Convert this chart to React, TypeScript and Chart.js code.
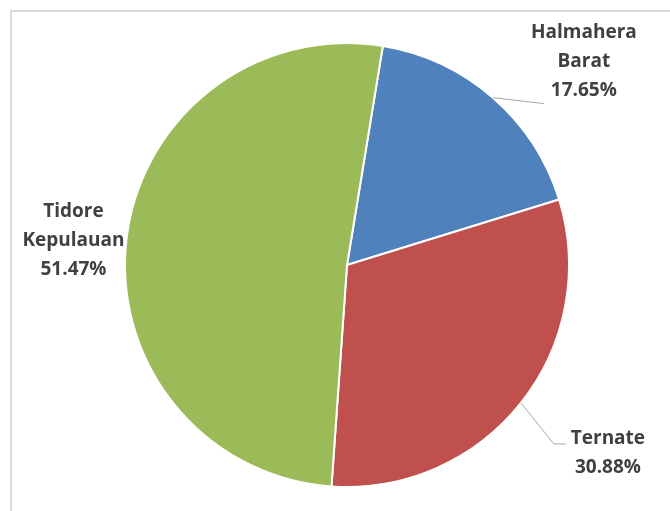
import React, { useEffect, useRef } from "react";
import { Chart, registerables } from "chart.js";

Chart.register(...registerables);

const categories = ["Halmahera Barat", "Ternate", "Tidore Kepulauan"];
const labelLines = [["Halmahera", "Barat"], ["Ternate"], ["Tidore", "Kepulauan"]];
const values = [17.65, 30.88, 51.47];
const colors = ["#4f81bd", "#c0504d", "#9bbb59"];

// label layout: offset of label block centre from slice edge point, leader path
const labelLayout = [
  { dx: 91, dy: -36, leader: [[51, 6]] },
  { dx: 87, dy: 50, leader: [[33, 41], [45, 41]] },
  { dx: -53, dy: 1, leader: [] },
];

const labelPlugin = {
  id: "pieLabels",
  afterDatasetsDraw(chart: any) {
    const ctx = chart.ctx;
    const meta = chart.getDatasetMeta(0);
    const lineH = 29;
    meta.data.forEach((arc: any, i: number) => {
      const { x, y, outerRadius, startAngle, endAngle } = arc.getProps(
        ["x", "y", "outerRadius", "startAngle", "endAngle"],
        true
      );
      const mid = (startAngle + endAngle) / 2;
      const ex = x + Math.cos(mid) * outerRadius;
      const ey = y + Math.sin(mid) * outerRadius;
      const lay = labelLayout[i];
      if (lay.leader.length) {
        ctx.save();
        ctx.strokeStyle = "#a6a6a6";
        ctx.lineWidth = 1;
        ctx.beginPath();
        ctx.moveTo(ex, ey);
        lay.leader.forEach((p) => ctx.lineTo(ex + p[0], ey + p[1]));
        ctx.stroke();
        ctx.restore();
      }
      const lines = [...labelLines[i], values[i].toFixed(2) + "%"];
      const cx = ex + lay.dx;
      const cy = ey + lay.dy;
      ctx.save();
      ctx.fillStyle = "#404040";
      ctx.font = "bold 19px 'Open Sans', sans-serif";
      ctx.textAlign = "center";
      ctx.textBaseline = "middle";
      const n = lines.length;
      lines.forEach((t, k) => {
        ctx.fillText(t, cx, cy + (k - (n - 1) / 2) * lineH);
      });
      ctx.restore();
    });
  },
};

export default function App() {
  const ref = useRef<HTMLCanvasElement | null>(null);
  useEffect(() => {
    if (!ref.current) return;
    const chart = new Chart(ref.current, {
      type: "pie",
      data: {
        labels: categories,
        datasets: [
          {
            data: values,
            backgroundColor: colors,
            borderColor: "#ffffff",
            borderWidth: 2,
          },
        ],
      },
      options: {
        animation: false,
        responsive: false,
        rotation: 9.3,
        layout: { padding: { top: 42, bottom: 23, left: 124, right: 100 } },
        plugins: {
          legend: { display: false },
          tooltip: { enabled: false },
        },
      },
      plugins: [labelPlugin],
    });
    return () => chart.destroy();
  }, []);
  return (
    <div
      style={{
        position: "fixed",
        left: 0,
        top: 0,
        width: 670,
        height: 511,
        overflow: "hidden",
        background: "#fff",
      }}
    >
      <div
        style={{
          position: "absolute",
          left: 10,
          top: 10,
          width: 700,
          height: 600,
          borderTop: "2px solid #d9d9d9",
          borderLeft: "2px solid #d9d9d9",
        }}
      />
      <canvas
        ref={ref}
        width={670}
        height={511}
        style={{ position: "absolute", left: 0, top: 0, width: 670, height: 511 }}
      />
    </div>
  );
}
